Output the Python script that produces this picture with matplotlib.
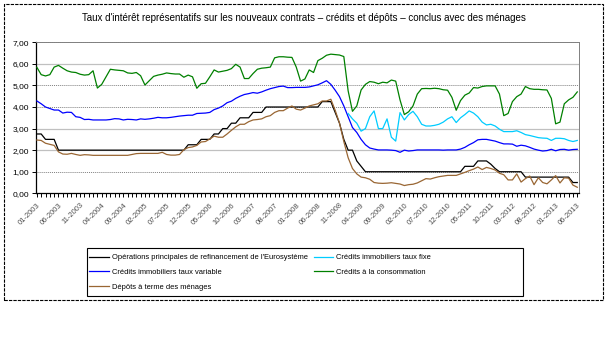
import numpy as np
import matplotlib
matplotlib.use("Agg")
import matplotlib.pyplot as plt
import matplotlib.patches as mpatches

plt.rcParams["font.family"] = ["Liberation Sans", "DejaVu Sans"]

title = ("Taux d'intérêt représentatifs sur les nouveaux contrats – crédits et dépôts "
         "– conclus avec des ménages")

x_labels = ["01-2003", "06-2003", "11-2003", "04-2004", "09-2004", "02-2005",
            "07-2005", "12-2005", "05-2006", "10-2006", "03-2007", "08-2007",
            "01-2008", "06-2008", "11-2008", "04-2009", "09-2009", "02-2010",
            "07-2010", "12-2010", "05-2011", "10-2011", "03-2012", "08-2012",
            "01-2013", "06-2013"]
y_labels = ["0,00", "1,00", "2,00", "3,00", "4,00", "5,00", "6,00", "7,00"]

series_names = [
    "Opérations principales de refinancement de l'Eurosystème",
    "Crédits immobiliers taux variable",
    "Dépôts à terme des ménages",
    "Crédits immobiliers taux fixe",
    "Crédits à la consommation",
]

# monthly values, 01-2003 .. 06-2013
refi = [2.75, 2.75, 2.50, 2.50, 2.50, 2.00, 2.00, 2.00, 2.00, 2.00,
        2.00, 2.00, 2.00, 2.00, 2.00, 2.00, 2.00, 2.00, 2.00, 2.00,
        2.00, 2.00, 2.00, 2.00, 2.00, 2.00, 2.00, 2.00, 2.00, 2.00,
        2.00, 2.00, 2.00, 2.00, 2.00, 2.25, 2.25, 2.25, 2.50, 2.50,
        2.50, 2.75, 2.75, 3.00, 3.00, 3.25, 3.25, 3.50, 3.50, 3.50,
        3.75, 3.75, 3.75, 4.00, 4.00, 4.00, 4.00, 4.00, 4.00, 4.00,
        4.00, 4.00, 4.00, 4.00, 4.00, 4.00, 4.25, 4.25, 4.25, 3.75,
        3.25, 2.50, 2.00, 2.00, 1.50, 1.25, 1.00, 1.00, 1.00, 1.00,
        1.00, 1.00, 1.00, 1.00, 1.00, 1.00, 1.00, 1.00, 1.00, 1.00,
        1.00, 1.00, 1.00, 1.00, 1.00, 1.00, 1.00, 1.00, 1.00, 1.25,
        1.25, 1.25, 1.50, 1.50, 1.50, 1.35, 1.15, 1.00, 1.00, 1.00,
        1.00, 1.00, 1.00, 0.75, 0.75, 0.75, 0.75, 0.75, 0.75, 0.75,
        0.75, 0.75, 0.75, 0.75, 0.50, 0.50]

variable = [4.28, 4.15, 4.00, 3.93, 3.86, 3.86, 3.72, 3.76, 3.75, 3.55,
            3.52, 3.42, 3.43, 3.40, 3.40, 3.40, 3.40, 3.42, 3.46, 3.45,
            3.40, 3.43, 3.42, 3.40, 3.45, 3.43, 3.45, 3.48, 3.52, 3.50,
            3.50, 3.52, 3.55, 3.58, 3.60, 3.62, 3.62, 3.70, 3.71, 3.72,
            3.75, 3.88, 3.95, 4.05, 4.20, 4.27, 4.40, 4.50, 4.58, 4.62,
            4.67, 4.64, 4.70, 4.78, 4.85, 4.90, 4.95, 4.97, 4.90, 4.90,
            4.91, 4.91, 4.91, 4.93, 4.98, 5.03, 5.12, 5.22, 5.05, 4.78,
            4.48, 4.05, 3.55, 3.05, 2.82, 2.50, 2.25, 2.10, 2.05, 2.01,
            2.01, 2.01, 2.00, 1.98, 1.90, 2.00, 1.96, 1.98, 2.01, 2.01,
            2.01, 2.01, 2.01, 2.01, 2.00, 2.01, 2.01, 2.01, 2.05, 2.13,
            2.25, 2.35, 2.48, 2.50, 2.50, 2.46, 2.42, 2.35, 2.29, 2.29,
            2.28, 2.18, 2.23, 2.20, 2.13, 2.05, 2.00, 1.96, 1.98, 2.04,
            1.97, 2.03, 2.04, 2.00, 2.03, 2.04]

depots = [2.47, 2.45, 2.32, 2.27, 2.22, 1.92, 1.82, 1.81, 1.85, 1.80,
          1.76, 1.79, 1.78, 1.76, 1.76, 1.76, 1.76, 1.76, 1.76, 1.76,
          1.76, 1.76, 1.80, 1.84, 1.85, 1.85, 1.85, 1.85, 1.85, 1.90,
          1.80, 1.77, 1.77, 1.80, 2.02, 2.12, 2.15, 2.22, 2.38, 2.40,
          2.52, 2.65, 2.60, 2.60, 2.75, 2.92, 3.08, 3.20, 3.20, 3.32,
          3.40, 3.42, 3.45, 3.55, 3.60, 3.75, 3.83, 3.83, 3.95, 4.05,
          3.90, 3.86, 3.95, 4.05, 4.10, 4.15, 4.28, 4.28, 4.36, 3.85,
          3.25, 2.40, 1.65, 1.15, 0.90, 0.75, 0.72, 0.65, 0.50, 0.47,
          0.46, 0.47, 0.49, 0.46, 0.43, 0.36, 0.40, 0.42, 0.48, 0.58,
          0.68, 0.66, 0.72, 0.77, 0.80, 0.83, 0.83, 0.83, 0.90, 0.97,
          1.05, 1.12, 1.22, 1.10, 1.20, 1.15, 1.08, 0.93, 0.86, 0.62,
          0.62, 0.90, 0.52, 0.68, 0.80, 0.40, 0.72, 0.50, 0.44, 0.62,
          0.82, 0.48, 0.72, 0.70, 0.38, 0.28]

nan = np.nan
fixe = [nan, nan, nan, nan, nan, nan, nan, nan, nan, nan,
        nan, nan, nan, nan, nan, nan, nan, nan, nan, nan,
        nan, nan, nan, nan, nan, nan, nan, nan, nan, nan,
        nan, nan, nan, nan, nan, nan, nan, nan, nan, nan,
        nan, nan, nan, nan, nan, nan, nan, nan, nan, nan,
        nan, nan, nan, nan, nan, nan, nan, nan, nan, nan,
        nan, nan, nan, nan, nan, nan, nan, nan, nan, nan,
        nan, nan, 3.70, 3.45, 3.25, 2.88, 3.00, 3.55, 3.82, 3.00,
        3.00, 3.45, 2.60, 2.42, 3.74, 3.40, 3.65, 3.80, 3.55, 3.20,
        3.12, 3.12, 3.15, 3.20, 3.30, 3.45, 3.55, 3.28, 3.50, 3.65,
        3.82, 3.72, 3.55, 3.30, 3.17, 3.20, 3.12, 2.97, 2.86, 2.86,
        2.86, 2.90, 2.82, 2.72, 2.68, 2.63, 2.58, 2.56, 2.55, 2.45,
        2.55, 2.55, 2.53, 2.45, 2.40, 2.45]

conso = [5.84, 5.50, 5.44, 5.50, 5.85, 5.93, 5.80, 5.68, 5.62, 5.60,
         5.52, 5.48, 5.50, 5.68, 4.88, 5.05, 5.40, 5.75, 5.72, 5.70,
         5.68, 5.58, 5.56, 5.60, 5.45, 5.02, 5.22, 5.42, 5.48, 5.52,
         5.58, 5.55, 5.53, 5.53, 5.38, 5.48, 5.40, 4.87, 5.08, 5.10,
         5.40, 5.72, 5.62, 5.66, 5.70, 5.78, 5.98, 5.85, 5.32, 5.32,
         5.55, 5.75, 5.80, 5.82, 5.85, 6.28, 6.33, 6.33, 6.31, 6.30,
         5.85, 5.20, 5.30, 5.72, 5.60, 6.15, 6.26, 6.40, 6.45, 6.43,
         6.41, 6.34, 4.75, 3.80, 4.05, 4.79, 5.05, 5.18, 5.15, 5.08,
         5.15, 5.12, 5.25, 5.20, 4.33, 3.65, 3.78, 4.05, 4.60, 4.85,
         4.86, 4.85, 4.87, 4.85, 4.80, 4.78, 4.45, 3.85, 4.30, 4.55,
         4.65, 4.90, 4.88, 4.95, 4.98, 4.98, 4.98, 4.60, 3.60, 3.70,
         4.25, 4.48, 4.60, 4.95, 4.85, 4.82, 4.82, 4.80, 4.79, 4.40,
         3.22, 3.30, 4.15, 4.33, 4.45, 4.70]

colors = ["#000000", "#0000FF", "#996633", "#00CCFF", "#008000"]

W, H = 606, 338
fig = plt.figure(figsize=(W / 100, H / 100), dpi=100)
fig.patch.set_facecolor("white")

# chart area border
fig.add_artist(mpatches.Rectangle((4 / W, 1 - 300 / H), 599 / W, 296 / H,
                                  transform=fig.transFigure, fill=False,
                                  edgecolor="black", linewidth=0.8,
                                  linestyle=(0, (3, 1))))

fig.text(304 / W, 1 - 18 / H, title, ha="center", va="center", fontsize=7)

ax = fig.add_axes([36 / W, 1 - 193.3 / H, 543 / W, 151 / H])
x = np.arange(len(refi))

# gridlines
for v in range(1, 8):
    if v in (6, 3, 2):
        ax.axhline(v, color="#c0c0c0", linewidth=0.9, zorder=1)
    else:
        ax.axhline(v, color="#808080", linewidth=0.7, linestyle=(0, (1, 1)), zorder=1)

lines = []
for data, name, c in zip([refi, variable, depots, fixe, conso], series_names, colors):
    ln, = ax.plot(x, data, color=c, linewidth=0.9, label=name, zorder=3)
    lines.append(ln)

ax.set_xlim(-0.2, len(refi) - 0.6)
ax.set_ylim(0, 7)
ax.set_yticks(range(8))
ax.set_yticklabels(y_labels, fontsize=6)
ax.set_xticks(np.arange(0, len(refi), 5))
ax.set_xticklabels(x_labels, fontsize=5.5, rotation=45, ha="right",
                   rotation_mode="anchor", color="#505050")
ax.set_xticks(x, minor=True)
ax.tick_params(axis="x", which="both", direction="out", length=3, width=0.7, pad=3)
ax.tick_params(axis="y", direction="out", length=3, width=0.7, pad=2)

for side in ("left", "bottom"):
    ax.spines[side].set_color("black")
    ax.spines[side].set_linewidth(0.9)
for side in ("top", "right"):
    ax.spines[side].set_color("#808080")
    ax.spines[side].set_linewidth(0.7)
    ax.spines[side].set_linestyle((0, (1, 1)))

# legend
fig.add_artist(mpatches.Rectangle((87 / W, 1 - 296 / H), 436 / W, 48 / H,
                                  transform=fig.transFigure, fill=False,
                                  edgecolor="black", linewidth=0.8))
fig.legend(handles=lines, loc="upper left", bbox_to_anchor=(89 / W, 1 - 254 / H),
           ncol=2, frameon=False, fontsize=5.4, borderaxespad=0, borderpad=0,
           handlelength=2.6, handletextpad=0.4, labelspacing=1.0,
           columnspacing=0.8)

fig.savefig("out.png", dpi=100)
